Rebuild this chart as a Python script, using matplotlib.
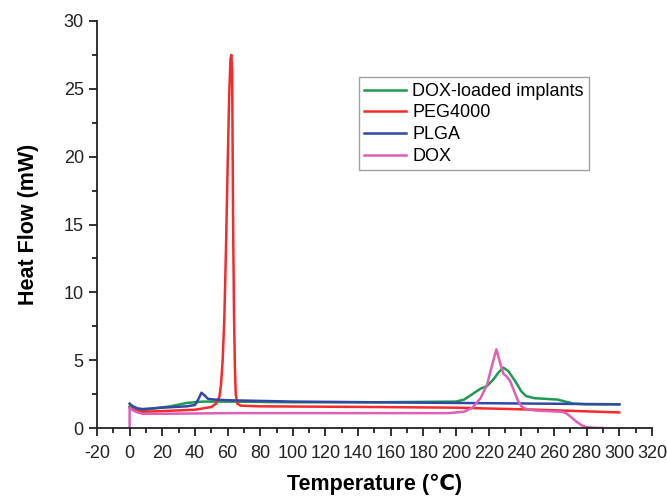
import numpy as np
import matplotlib
matplotlib.use("Agg")
import matplotlib.pyplot as plt
from matplotlib.ticker import MultipleLocator

plt.rcParams['font.family'] = ['Liberation Sans', 'DejaVu Sans']
plt.rcParams['axes.unicode_minus'] = False

# DSC curves
t_green = [0, 2, 5, 8, 15, 25, 35, 45, 60, 100, 150, 200, 205, 210, 215, 219, 223, 226, 229, 232, 236, 240, 243, 248, 255, 262, 267, 272, 280, 300]
y_green = [1.6, 1.5, 1.35, 1.3, 1.45, 1.6, 1.85, 1.95, 1.95, 1.9, 1.9, 1.95, 2.1, 2.5, 2.9, 3.1, 3.6, 4.1, 4.45, 4.2, 3.5, 2.7, 2.35, 2.2, 2.15, 2.1, 1.95, 1.8, 1.75, 1.75]

t_red = [0, 2, 5, 8, 20, 40, 50, 53, 55, 56, 57, 58, 59, 60, 61, 61.8, 62.3, 62.8, 63.4, 64, 64.5, 65, 66, 68, 80, 150, 200, 250, 300]
y_red = [1.5, 1.35, 1.25, 1.2, 1.25, 1.35, 1.55, 1.8, 2.3, 3.2, 5.0, 8.0, 13.0, 19.0, 24.5, 27.2, 27.5, 26.5, 15.0, 8.0, 4.5, 2.5, 1.8, 1.65, 1.6, 1.55, 1.5, 1.35, 1.15]

t_blue = [0, 2, 5, 8, 20, 35, 40, 42, 44, 46, 48, 52, 60, 80, 100, 150, 200, 250, 300]
y_blue = [1.8, 1.6, 1.45, 1.4, 1.5, 1.6, 1.7, 2.1, 2.6, 2.4, 2.15, 2.1, 2.05, 2.0, 1.95, 1.9, 1.85, 1.8, 1.75]

t_dox = [0, 0, 2, 5, 8, 20, 60, 100, 150, 195, 205, 210, 215, 219, 222, 224.7, 227, 229, 231, 233, 236, 238, 240, 243, 248, 255, 265, 268, 271, 274, 277, 280, 284, 290]
y_dox = [0.0, 1.5, 1.3, 1.15, 1.05, 1.05, 1.1, 1.1, 1.1, 1.1, 1.2, 1.5, 2.2, 3.2, 4.6, 5.8, 4.8, 4.0, 3.8, 3.5, 2.6, 2.0, 1.6, 1.4, 1.3, 1.25, 1.2, 1.05, 0.75, 0.45, 0.2, 0.07, 0.02, 0.0]

series = [
    ("DOX-loaded implants", t_green, y_green, "#1e9a4e"),
    ("PEG4000", t_red, y_red, "#f52a2a"),
    ("PLGA", t_blue, y_blue, "#3248a8"),
    ("DOX", t_dox, y_dox, "#dd5fb6"),
]

fig = plt.figure(figsize=(6.67, 4.96), dpi=100)
ax = fig.add_axes([0.1454, 0.137, 0.832, 0.8207])

for name, t, y, c in series:
    ax.plot(t, y, color=c, lw=1.8, label=name)

ax.set_xlim(-20, 320)
ax.set_ylim(0, 30)
ax.xaxis.set_major_locator(MultipleLocator(20))
ax.xaxis.set_minor_locator(MultipleLocator(10))
ax.yaxis.set_major_locator(MultipleLocator(5))
ax.yaxis.set_minor_locator(MultipleLocator(2.5))
ax.spines['top'].set_visible(False)
ax.spines['right'].set_visible(False)
for s in ('left', 'bottom'):
    ax.spines[s].set_linewidth(1.3)
    ax.spines[s].set_color('#222222')
ax.tick_params(which='major', length=6, width=1.3, labelsize=13, colors='#222222')
ax.tick_params(which='minor', length=3.5, width=1.3, colors='#222222')
ax.tick_params(axis='x', pad=6)

ax.set_xlabel("Temperature (℃)", fontsize=15.5, fontweight='bold', labelpad=9)
ax.set_ylabel("Heat Flow (mW)", fontsize=15.5, fontweight='bold', labelpad=18)

leg = ax.legend(loc='upper left', bbox_to_anchor=(0.472, 0.862), fontsize=13,
                frameon=True, fancybox=False, edgecolor='#888888',
                handlelength=2.3, handletextpad=0.35, labelspacing=0.26,
                borderpad=0.3, borderaxespad=0, handleheight=0.6)
leg.get_frame().set_linewidth(1.0)

fig.savefig("out.png", dpi=100)
